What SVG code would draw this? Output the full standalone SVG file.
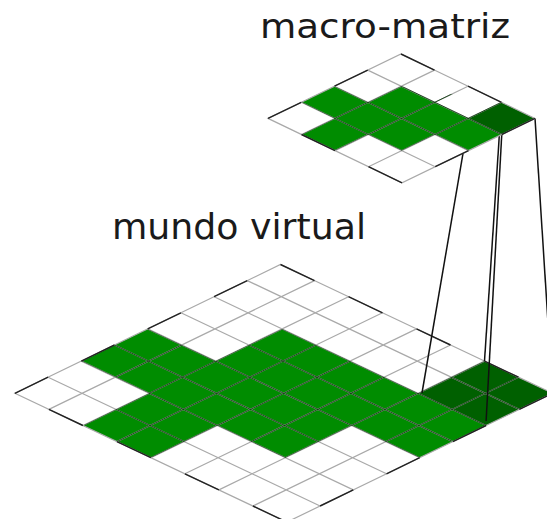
<svg xmlns="http://www.w3.org/2000/svg" xmlns:xlink="http://www.w3.org/1999/xlink" width="547" height="519" viewBox="0 0 547 519">
  <style>
    .bg { fill: #ffffff; }
    .green { fill: #008c00; }
    .dark { fill: #006000; }
    .lt { fill: none; stroke: #a9a9a9; stroke-width: 1.2; }
    .lg { fill: none; stroke: #0d3a0d; stroke-width: 1; stroke-opacity: 0.85; }
    .bd { fill: none; stroke: #a9a9a9; stroke-width: 1.2; }
    .bk { fill: none; stroke: #222222; stroke-width: 1.4; stroke-dasharray: 1 1; }
    .conn { fill: none; stroke: #111111; stroke-width: 1.5; }
    .label { font-family: "DejaVu Sans", "Liberation Sans", sans-serif; fill: #1a1a1a; }
  </style>
  <defs>
    <path id="wlines" d="M314.5,280.6 L48.9,409.4 M348.5,296.7 L82.9,425.5 M382.5,312.8 L116.9,441.6 M416.5,328.9 L150.9,457.7 M450.5,345 L184.9,473.8 M484.5,361.1 L218.9,489.9 M518.5,377.2 L252.9,506 M247.3,280.6 L519.3,409.4 M214.1,296.7 L486.1,425.5 M180.9,312.8 L452.9,441.6 M147.7,328.9 L419.7,457.7 M114.5,345 L386.5,473.8 M81.3,361.1 L353.3,489.9 M48.1,377.2 L320.1,506"/>
    <path id="mlines" d="M434.5,70.1 L301.5,134.5 M468,86.2 L335,150.6 M501.5,102.3 L368.5,166.7 M367.75,70.1 L501.75,134.5 M334.5,86.2 L468.5,150.6 M301.25,102.3 L435.25,166.7"/>
    <clipPath id="wclip">
      <polygon points="147.7,328.9 215.7,361.1 282.1,328.9 418.1,393.3 484.5,361.1 552.5,393.3 486.1,425.5 419.7,457.7 351.7,425.5 285.3,457.7 217.3,425.5 150.9,457.7 82.9,425.5 149.3,393.3 81.3,361.1"/>
    </clipPath>
    <clipPath id="mclip">
      <polygon points="334.5,86.2 368,102.3 401.25,86.2 501.5,102.3 535,118.4 501.75,134.5 468.5,150.6 435,134.5 401.75,150.6 368.25,134.5 335,150.6 301.5,134.5 334.75,118.4 301.25,102.3"/>
    </clipPath>
  </defs>

  <g id="mundo-virtual">
    <polygon class="bg" points="280.5,264.5 552.5,393.3 286.9,522.1 14.9,393.3"/>
    <polygon class="green" points="147.7,328.9 215.7,361.1 282.1,328.9 418.1,393.3 486.1,425.5 419.7,457.7 351.7,425.5 285.3,457.7 217.3,425.5 150.9,457.7 82.9,425.5 149.3,393.3 81.3,361.1"/>
    <polygon class="dark" points="484.5,361.1 552.5,393.3 486.1,425.5 418.1,393.3"/>
    <use xlink:href="#wlines" class="lt"/>
    <use xlink:href="#wlines" class="lg" clip-path="url(#wclip)"/>
    <polygon class="bd" points="280.5,264.5 552.5,393.3 286.9,522.1 14.9,393.3"/>
    <path class="bk" pathLength="8" d="M14.9,393.3 L280.5,264.5"/>
    <path class="bk" pathLength="8" d="M280.5,264.5 L552.5,393.3"/>
    <path class="bk" pathLength="8" d="M552.5,393.3 L286.9,522.1"/>
    <path class="bk" pathLength="8" d="M286.9,522.1 L14.9,393.3"/>
    <text class="label" x="112" y="239" font-size="35" textLength="254" lengthAdjust="spacingAndGlyphs">mundo virtual</text>
  </g>

  <g id="connectors">
    <line class="conn" x1="469" y1="118.4" x2="422" y2="393"/>
    <line class="conn" x1="501.5" y1="102.3" x2="484.5" y2="361.1"/>
    <line class="conn" x1="501.75" y1="134.5" x2="486.1" y2="421"/>
    <line class="conn" x1="535" y1="118.4" x2="552.5" y2="393.3"/>
  </g>

  <g id="macro-matriz">
    <polygon class="bg" points="401,54 535,118.4 402,182.8 268,118.4"/>
    <polygon class="green" points="334.5,86.2 368,102.3 401.25,86.2 468.25,118.4 501.75,134.5 468.5,150.6 435,134.5 401.75,150.6 368.25,134.5 335,150.6 301.5,134.5 334.75,118.4 301.25,102.3"/>
    <polygon class="dark" points="501.5,102.3 535,118.4 501.75,134.5 468.25,118.4"/>
    <use xlink:href="#mlines" class="lt"/>
    <use xlink:href="#mlines" class="lg" clip-path="url(#mclip)"/>
    <polygon class="bd" points="401,54 535,118.4 402,182.8 268,118.4"/>
    <path class="bk" pathLength="4" d="M268,118.4 L401,54"/>
    <path class="bk" pathLength="4" d="M401,54 L535,118.4"/>
    <path class="bk" pathLength="4" d="M535,118.4 L402,182.8"/>
    <path class="bk" pathLength="4" d="M402,182.8 L268,118.4"/>
    <text class="label" x="260" y="38" font-size="34" textLength="250" lengthAdjust="spacingAndGlyphs">macro-matriz</text>
  </g>
</svg>
